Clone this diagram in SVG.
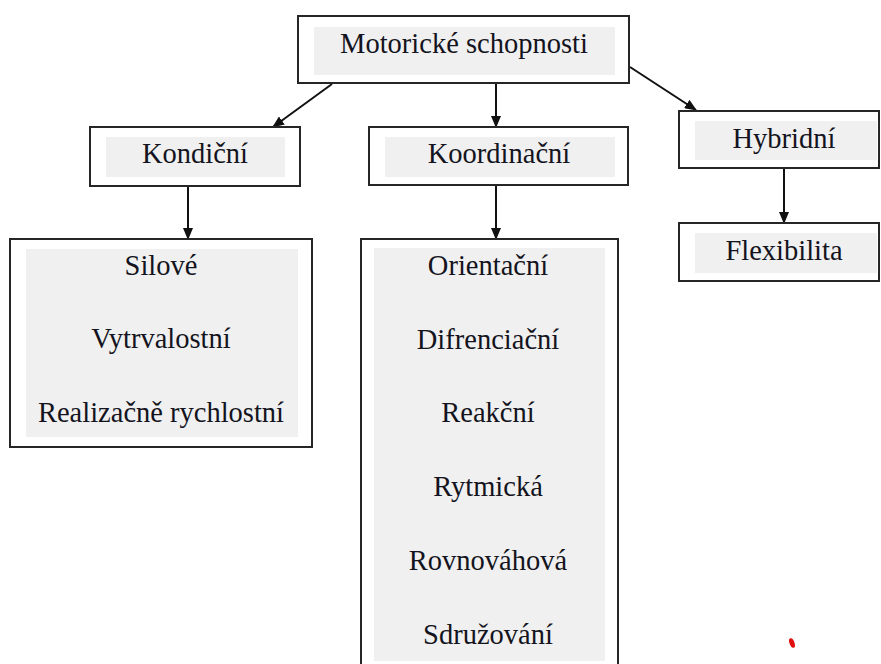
<svg xmlns="http://www.w3.org/2000/svg" width="881" height="664" viewBox="0 0 881 664">
<defs>
<style>
.box{fill:#fff;stroke:#262626;stroke-width:2}
.bg{fill:#f0f0f0;stroke:none}
.t{font-family:'Liberation Serif','Tinos','Times New Roman','DejaVu Serif',serif;font-size:28.5px;fill:#141420;text-anchor:middle}
.c{stroke:#111;stroke-width:2;fill:none}
</style>
<marker id="ah" markerWidth="12" markerHeight="10" refX="11" refY="5" orient="auto" markerUnits="userSpaceOnUse">
<path d="M0,0 L12,5 L0,10 Z" fill="#111"/>
</marker>
</defs>
<rect width="881" height="664" fill="#fff"/>
<g id="connectors">
<line class="c" x1="332" y1="84" x2="273" y2="127" marker-end="url(#ah)"/>
<line class="c" x1="496" y1="84" x2="496" y2="127" marker-end="url(#ah)"/>
<line class="c" x1="630" y1="67" x2="696" y2="110" marker-end="url(#ah)"/>
<line class="c" x1="188" y1="186" x2="188" y2="239" marker-end="url(#ah)"/>
<line class="c" x1="496" y1="186" x2="496" y2="239" marker-end="url(#ah)"/>
<line class="c" x1="784" y1="168" x2="784" y2="223" marker-end="url(#ah)"/>
</g>
<g id="motoricke">
<rect class="box" x="298" y="16" width="331" height="67"/>
<rect class="bg" x="314" y="27" width="301" height="48"/>
<text class="t" x="464" y="53">Motorické schopnosti</text>
</g>
<g id="kondicni">
<rect class="box" x="90" y="127" width="210" height="59"/>
<rect class="bg" x="106" y="137" width="179" height="40"/>
<text class="t" x="195" y="163">Kondiční</text>
</g>
<g id="koordinacni">
<rect class="box" x="369" y="127" width="259" height="58"/>
<rect class="bg" x="385" y="137" width="230" height="40"/>
<text class="t" x="499" y="163">Koordinační</text>
</g>
<g id="hybridni">
<rect class="box" x="679" y="111" width="200" height="57"/>
<rect class="bg" x="695" y="121" width="182" height="39"/>
<text class="t" x="784" y="148">Hybridní</text>
</g>
<g id="kondicni-list">
<rect class="box" x="10" y="239" width="302" height="208"/>
<rect class="bg" x="26" y="249" width="272" height="188"/>
<text class="t" x="161" y="275">Silové</text>
<text class="t" x="161" y="348">Vytrvalostní</text>
<text class="t" x="161" y="422">Realizačně rychlostní</text>
</g>
<g id="koordinacni-list">
<path class="box" d="M361,666 V239 H618 V666"/>
<rect class="bg" x="374" y="248" width="231" height="413"/>
<text class="t" x="488" y="275">Orientační</text>
<text class="t" x="488" y="349">Difrenciační</text>
<text class="t" x="488" y="422">Reakční</text>
<text class="t" x="488" y="496">Rytmická</text>
<text class="t" x="488" y="570">Rovnováhová</text>
<text class="t" x="488" y="644">Sdružování</text>
</g>
<g id="flexibilita">
<rect class="box" x="679" y="223" width="200" height="58"/>
<rect class="bg" x="695" y="233" width="182" height="40"/>
<text class="t" x="784" y="260">Flexibilita</text>
</g>
<ellipse cx="792" cy="643" rx="2.5" ry="5" fill="#e01010" transform="rotate(-20 792 643)"/>
</svg>
